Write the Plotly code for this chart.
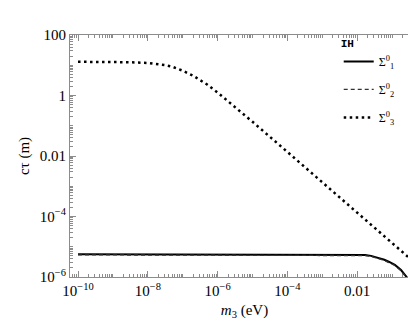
import plotly.graph_objects as go

# m3 sample points (eV) and c*tau (m)
m3_flat = [1e-10, 1e-9, 1e-8, 1e-7, 1e-6, 1e-5, 1e-4, 1e-3, 3e-3, 0.01, 0.017, 0.025, 0.04, 0.06, 0.08, 0.12, 0.18, 0.25, 0.3, 0.35]
ctau_sigma1 = [5.6e-6, 5.6e-6, 5.6e-6, 5.6e-6, 5.6e-6, 5.6e-6, 5.6e-6, 5.6e-6, 5.55e-6, 5.5e-6, 5.3e-6, 5.0e-6, 4.3e-6, 3.7e-6, 3.2e-6, 2.5e-6, 1.7e-6, 1.1e-6, 8.5e-7, 6.5e-7]
ctau_sigma2 = [5.4e-6, 5.4e-6, 5.4e-6, 5.4e-6, 5.4e-6, 5.4e-6, 5.4e-6, 5.4e-6, 5.35e-6, 5.3e-6, 5.1e-6, 4.8e-6, 4.1e-6, 3.5e-6, 3.0e-6, 2.4e-6, 1.6e-6, 1.05e-6, 8.0e-7, 6.2e-7]

m3_dot = [1e-10, 1e-9, 3e-9, 1e-8, 2e-8, 3e-8, 5e-8, 1e-7, 2e-7, 3e-7, 5e-7, 1e-6, 3e-6, 1e-5, 1e-4, 1e-3, 1e-2, 0.1, 0.4]
ctau_sigma3 = [13, 12.9, 12.6, 11.9, 11.0, 10.2, 8.9, 6.6, 4.5, 3.4, 2.3, 1.25, 0.44, 0.135, 0.0136, 1.36e-3, 1.36e-4, 1.36e-5, 3.3e-6]

x_ticks = [1e-10, 1e-8, 1e-6, 1e-4, 1e-2]
x_ticktext = ["10<sup>−10</sup>", "10<sup>−8</sup>", "10<sup>−6</sup>", "10<sup>−4</sup>", "0.01"]
y_ticks = [1e-6, 1e-4, 1e-2, 1, 100]
y_ticktext = ["10<sup>−6</sup>", "10<sup>−4</sup>", "0.01", "1", "100"]

minor_x = [k * 10.0 ** e for e in range(-11, 0) for k in range(1, 10) if 10.0 ** e * k not in x_ticks]
minor_y = [k * 10.0 ** e for e in range(-7, 3) for k in range(1, 10) if 10.0 ** e * k not in y_ticks]

serif = "Liberation Serif, Times New Roman, serif"
frame = "#8c8c8c"

fig = go.Figure()
fig.add_trace(go.Scatter(
    x=m3_flat, y=ctau_sigma1, mode="lines", name="Σ<sup>0</sup><sub>1</sub>",
    legendgroup="a", line=dict(color="black", width=2),
))
fig.add_trace(go.Scatter(
    x=m3_flat, y=ctau_sigma2, mode="lines", name="Σ<sup>0</sup><sub>2</sub>",
    legendgroup="b", line=dict(color="#333333", width=1.3, dash="4px,3px"),
))
fig.add_trace(go.Scatter(
    x=m3_dot, y=ctau_sigma3, mode="lines", name="Σ<sup>0</sup><sub>3</sub>",
    legendgroup="c", line=dict(color="black", width=2.5, dash="2.5px,3.5px"),
))

axis_common = dict(
    type="log",
    showgrid=False,
    zeroline=False,
    showline=True,
    linecolor=frame,
    linewidth=1,
    mirror="allticks",
    ticks="inside",
    ticklen=6,
    tickcolor=frame,
    tickfont=dict(family=serif, size=15, color="black"),
)

fig.update_xaxes(
    **axis_common,
    range=[-10.23, -0.23],
    tickmode="array",
    tickvals=x_ticks,
    ticktext=x_ticktext,
    minor=dict(tickmode="array", tickvals=minor_x, ticks="inside", ticklen=3, tickcolor=frame),
    title=dict(text="<i>m</i><sub>3</sub> (eV)", font=dict(family=serif, size=15, color="black"), standoff=6),
)
fig.update_yaxes(
    **axis_common,
    range=[-6, 2],
    tickmode="array",
    tickvals=y_ticks,
    ticktext=y_ticktext,
    minor=dict(tickmode="array", tickvals=minor_y, ticks="inside", ticklen=3, tickcolor=frame),
    title=dict(text="cτ (m)", font=dict(family=serif, size=15, color="black"), standoff=6),
)

fig.update_layout(
    width=416,
    height=327,
    margin=dict(l=62, r=5, t=27, b=58),
    paper_bgcolor="white",
    plot_bgcolor="white",
    showlegend=True,
    legend=dict(
        x=0.77, y=1.01, xanchor="left", yanchor="top",
        bgcolor="rgba(0,0,0,0)",
        font=dict(family=serif, size=12, color="black"),
        title=dict(text="<b>IH</b>", font=dict(family="Liberation Mono, Courier New, monospace", size=11, color="black")),
        tracegroupgap=9,
        itemwidth=30,
    ),
)

fig.write_html("out.html")
